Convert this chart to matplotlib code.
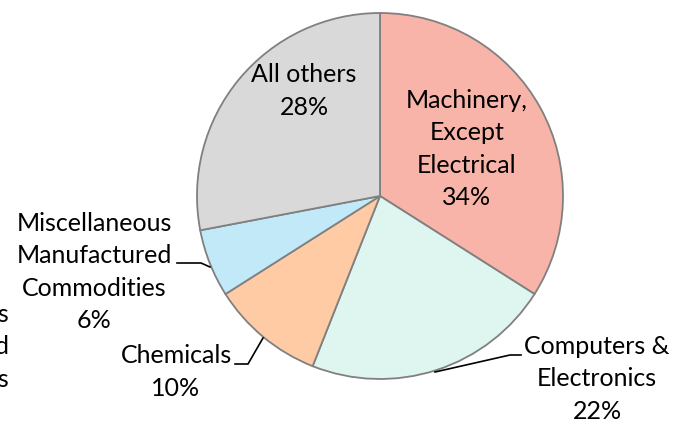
import numpy as np
import matplotlib.pyplot as plt

# slice data, clockwise from 12 o'clock
labels = ['Machinery,\nExcept\nElectrical', 'Computers &\nElectronics', 'Chemicals',
          'Miscellaneous\nManufactured\nCommodities', 'All others']
shares = [34, 22, 10, 6, 28]
colors = ['#F8B4A8', '#DFF5EF', '#FFCBA4', '#C2E9F8', '#D9D9D9']

W, H = 682, 424
cx, cy, R = 380, H - 196, 183

plt.rcParams['font.family'] = ['Lato', 'DejaVu Sans']

fig = plt.figure(figsize=(W / 100, H / 100), dpi=100)
ax = fig.add_axes([0, 0, 1, 1])

wedges, _ = ax.pie(shares, colors=colors, startangle=90, counterclock=False,
                   center=(cx, cy), radius=R, frame=True,
                   wedgeprops=dict(edgecolor='#808080', linewidth=1.3))
ax.set_xlim(0, W)
ax.set_ylim(0, H)
ax.set_aspect('equal')
ax.axis('off')

fs = 18
ls = 1.5


def lab(i):
    return f'{labels[i]}\n{shares[i]}%'


# labels inside slices
ax.text(467, H - 149, lab(0), ha='center', va='center', fontsize=fs, linespacing=ls)
ax.text(304, H - 91, lab(4), ha='center', va='center', fontsize=fs, linespacing=ls)

# outside labels with leader lines
ax.text(597, H - 379, lab(1), ha='center', va='center', fontsize=fs, linespacing=ls)
ax.plot([435, 510, 521], [H - 372, H - 355, H - 355], color='black', lw=1.2)

ax.text(176, H - 372, lab(2), ha='center', va='center', fontsize=fs, linespacing=ls)
ax.plot([263, 248, 235], [H - 338, H - 364, H - 364], color='black', lw=1.2)

ax.text(94, H - 272, lab(3), ha='center', va='center', fontsize=fs, linespacing=ls)
ax.plot([177, 201, 210], [H - 263, H - 263, H - 267], color='black', lw=1.2)

# label that sits partly past the left edge in the original
ax.text(9, H - 347, 'Plastics\nand Related\nProducts', ha='right', va='center',
        fontsize=fs, linespacing=ls, clip_on=False)

fig.savefig('out.png', dpi=100)
